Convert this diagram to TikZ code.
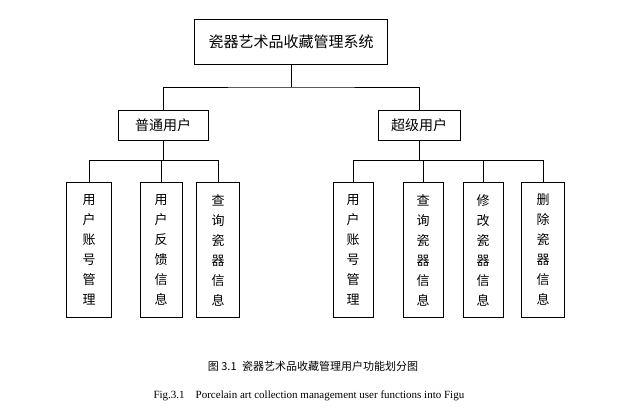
\documentclass[tikz,border=0pt]{standalone}
\usepackage{fontspec}
\setmainfont{Liberation Serif}
\newfontfamily\cjk{Noto Sans CJK SC}
\usetikzlibrary{positioning}

\begin{document}
\begin{tikzpicture}[x=1pt,y=-1pt,every node/.style={font=\cjk},
  box/.style={draw,thin,inner sep=0pt,align=center},
  vbox/.style={box,minimum width=42pt,minimum height=135pt,font=\cjk\fontsize{13}{20}\selectfont}]
  \useasboundingbox (0,0) rectangle (626,417);
  %top
  \node[box,minimum width=193pt,minimum height=45pt,font=\cjk\fontsize{15}{18}\selectfont] (sys) at (291,42) {瓷器艺术品收藏管理系统};
  %users
  \node[box,minimum width=90pt,minimum height=30pt,font=\cjk\fontsize{14}{16}\selectfont] (pt) at (163,125) {普通用户};
  \node[box,minimum width=82pt,minimum height=30pt,font=\cjk\fontsize{14}{16}\selectfont] (cj) at (419,125) {超级用户};
  %left
  \node[vbox,minimum width=45pt] (p1) at (89,250) {用\\户\\账\\号\\管\\理};
  \node[vbox] (p2) at (161,250) {用\\户\\反\\馈\\信\\息};
  \node[vbox,minimum width=43pt] (p3) at (218,250) {查\\询\\瓷\\器\\信\\息};
  %right
  \node[vbox,minimum width=40pt] (c1) at (353,250) {用\\户\\账\\号\\管\\理};
  \node[vbox,minimum width=40pt] (c2) at (423,250) {查\\询\\瓷\\器\\信\\息};
  \node[vbox,minimum width=40pt] (c3) at (483,250) {修\\改\\瓷\\器\\信\\息};
  \node[vbox,minimum width=43pt] (c4) at (543,250) {删\\除\\瓷\\器\\信\\息};
  %lines
  \coordinate (j0) at (291,87);
  \draw (sys) -- (j0);
  \draw (pt) |- (j0) -| (cj);
  \coordinate (jl) at (163,160);
  \coordinate (jr) at (419,160);
  \draw (pt) -- (jl);
  \draw (cj) -- (jr);
  \foreach \n in {p1,p2,p3} \draw (jl) -| (\n);
  \foreach \n in {c1,c2,c3,c4} \draw (jr) -| (\n);
  %captions
  \node[font=\cjk\fontsize{11}{13}\selectfont] (cap) at (313,366) {图 3.1\enspace 瓷器艺术品收藏管理用户功能划分图};
  \node[font=\fontsize{11}{13}\selectfont,anchor=west] (capen) at (150,396) {Fig.3.1\quad Porcelain art collection management user functions into Figu};
\end{tikzpicture}
\end{document}
